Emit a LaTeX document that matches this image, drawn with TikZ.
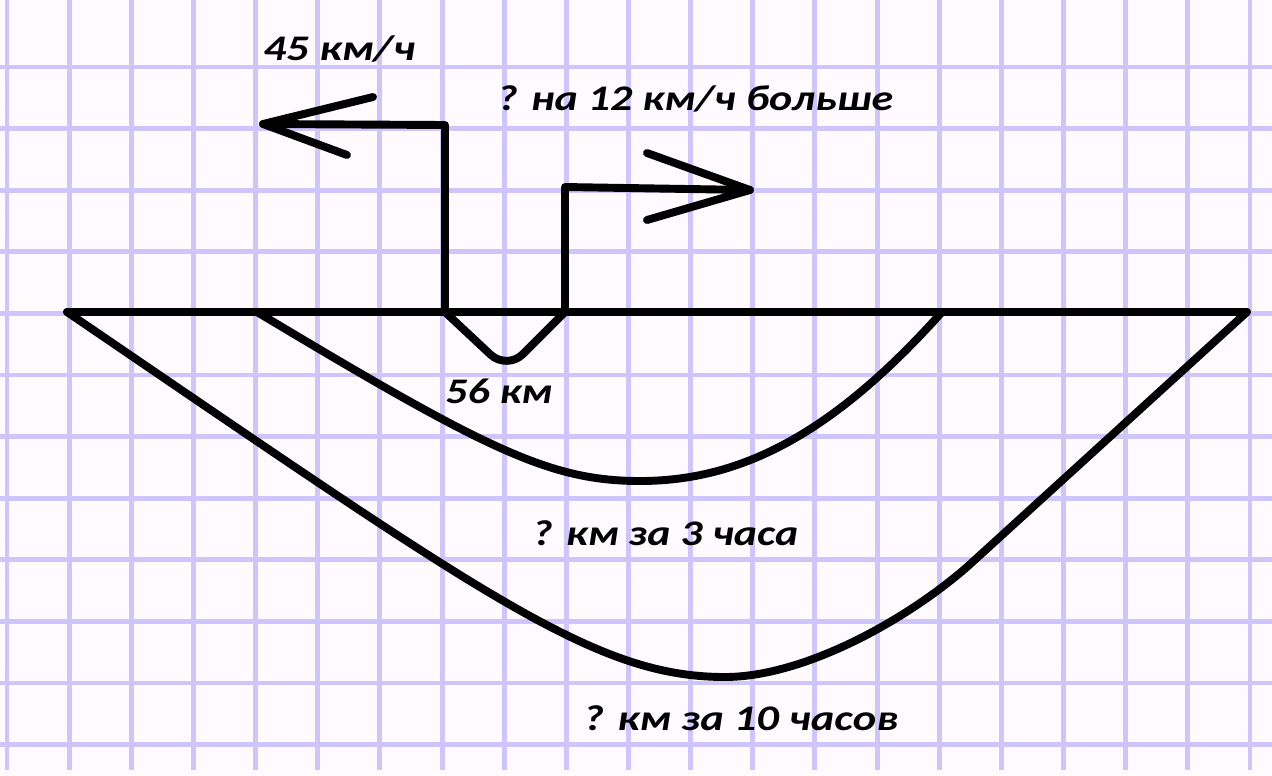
\documentclass[tikz,border=0pt]{standalone}
\usepackage{fontspec}
\usepackage{graphicx}
\setmainfont{Carlito}
\definecolor{paper}{RGB}{254,250,254}
\definecolor{gridc}{RGB}{205,197,252}
\newcommand{\stretchw}[2]{\resizebox{#1}{\height}{#2}}
\begin{document}
\begin{tikzpicture}[x=0.02cm,y=-0.02cm,
  ink/.style={line width=4.5pt, line cap=round, line join=round},
  gridline/.style={gridc, line width=2.8pt},
  lbl/.style={anchor=base west, inner sep=0pt, font=\fontsize{20.5}{24}\selectfont\bfseries\itshape}]
\fill[paper] (0,0) rectangle (1272,775);
\useasboundingbox (0,0) rectangle (1272,775);
\foreach \k in {0,...,20} \draw[gridline] ({7+62.15*\k},0) -- ({7+62.15*\k},770);
\foreach \k in {0,...,11} \draw[gridline] (0,{67+61.6*\k}) -- (1272,{67+61.6*\k});
% key points
\coordinate (L) at (67,312);
\coordinate (R) at (1247,312);
\coordinate (iL) at (257,312);
\coordinate (iR) at (942,312);
\coordinate (iB) at (640,481);
\coordinate (oB) at (725,677);
\coordinate (oS) at (967,567);
\coordinate (sL) at (445,312);
\coordinate (sR) at (565,312);
\coordinate (sV) at (507,370);
\coordinate (aC) at (445,125);
\coordinate (aT) at (263,124);
\coordinate (aB1) at (373,97);
\coordinate (aB2) at (347,155);
\coordinate (bC) at (565,187);
\coordinate (bT) at (750,190);
\coordinate (bB1) at (647,153);
\coordinate (bB2) at (647,220);
% base line
\draw[ink] (L) -- (R);
% left arrow (45 km/h)
\draw[ink] (sL) -- (aC) -- (aT);
\draw[ink] (aB1) -- (aT) -- (aB2);
% right arrow
\draw[ink] (sR) -- (bC) -- (bT);
\draw[ink] (bB1) -- (bT) -- (bB2);
% small arc 56 km
\draw[ink, rounded corners=0.45cm] (sL) -- (sV) -- (sR);
% inner arc (3 hours)
\draw[ink] (iL) .. controls (487,450) and (550,481) .. (iB)
               .. controls (740,481) and (832,435) .. (iR);
% outer arc (10 hours)
\draw[ink] (L) .. controls (487,598) and (595,677) .. (oB)
              .. controls (800,677) and (900,625) .. (oS) -- (R);
% labels
\node[lbl] (v1) at (263,60) {\stretchw{3.04cm}{45 км/ч}};
\node[lbl] (v2) at (497,110) {\stretchw{7.92cm}{? на 12 км/ч больше}};
\node[lbl] (d1) at (445,403) {\stretchw{2.14cm}{56 км}};
\node[lbl] (d3) at (532,545) {\stretchw{5.32cm}{? км за 3 часа}};
\node[lbl] (d10) at (583,730) {\stretchw{6.30cm}{? км за 10 часов}};
\end{tikzpicture}
\end{document}
